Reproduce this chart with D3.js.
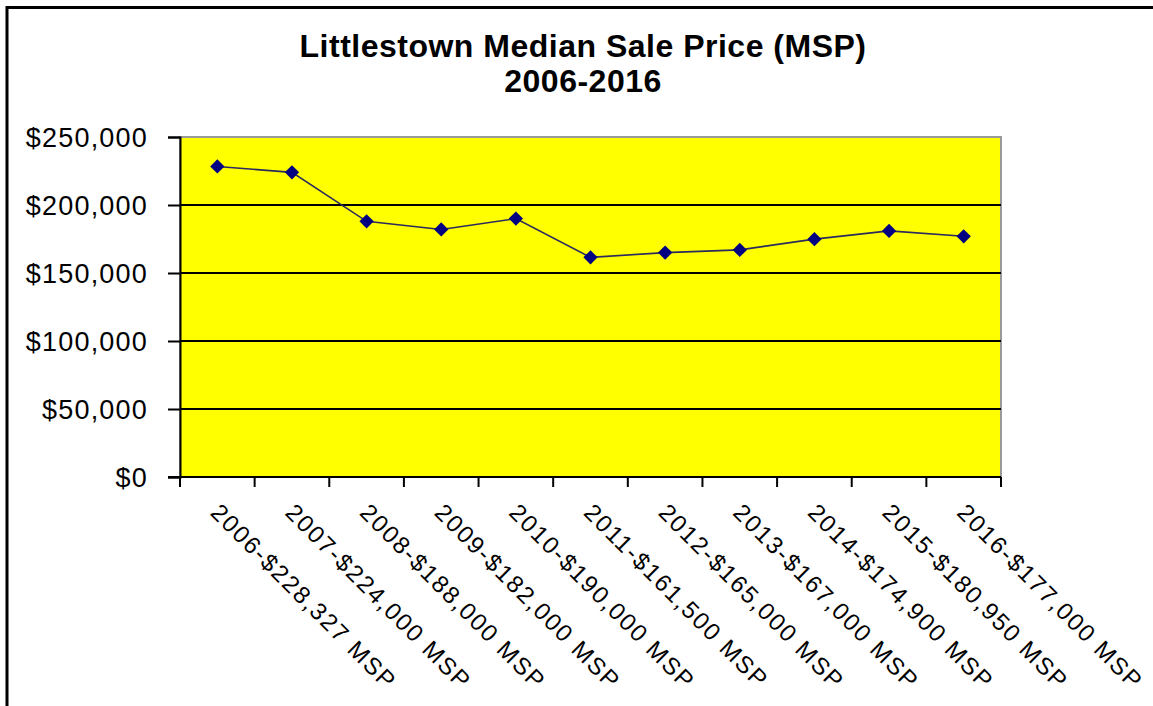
<!DOCTYPE html>
<html>
<head>
<meta charset="utf-8">
<script src="https://cdn.jsdelivr.net/npm/d3@7"></script>
<style>
  body { margin: 0; background: #fff; }
  text { font-family: "Liberation Sans", Arial, sans-serif; fill: #000; }
</style>
</head>
<body>
<script>
// data
var years = ["2006", "2007", "2008", "2009", "2010", "2011", "2012", "2013", "2014", "2015", "2016"];
var prices = [228327, 224000, 188000, 182000, 190000, 161500, 165000, 167000, 174900, 180950, 177000];
var yTicks = [0, 50000, 100000, 150000, 200000, 250000];
var titleLines = ["Littlestown Median Sale Price (MSP)", "2006-2016"];

var vizWidth = 1153,
    vizHeight = 706,
    plot = { left: 180, right: 1001, top: 137, bottom: 477 };

var data = years.map(function (y, i) { return { year: y, price: prices[i] }; });

var svg = d3.select("body").append("svg")
    .attr("width", vizWidth)
    .attr("height", vizHeight);

// outer frame (runs off the right / bottom edge)
svg.append("rect")
    .attr("x", 7).attr("y", 7.5)
    .attr("width", 1200).attr("height", 800)
    .attr("fill", "none")
    .attr("stroke", "#000")
    .attr("stroke-width", 3);

// title
svg.append("g").selectAll("text")
    .data(titleLines)
    .enter().append("text")
    .attr("x", 583)
    .attr("y", function (d, i) { return 57 + i * 35; })
    .attr("text-anchor", "middle")
    .style("font-size", "32px")
    .style("font-weight", "bold")
    .style("letter-spacing", "0.5px")
    .text(function (d) { return d; });

var x = d3.scaleBand()
    .domain(years)
    .range([plot.left, plot.right]);

var y = d3.scaleLinear()
    .domain([0, 250000])
    .range([plot.bottom, plot.top]);

// plot area
svg.append("rect")
    .attr("x", plot.left).attr("y", plot.top)
    .attr("width", plot.right - plot.left)
    .attr("height", plot.bottom - plot.top)
    .attr("fill", "#ffff00")
    .attr("stroke", "#999")
    .attr("stroke-width", 2);

// gridlines
svg.append("g").selectAll("line")
    .data(yTicks.filter(function (d) { return d > 0 && d < 250000; }))
    .enter().append("line")
    .attr("x1", plot.left).attr("x2", plot.right)
    .attr("y1", function (d) { return y(d); })
    .attr("y2", function (d) { return y(d); })
    .attr("stroke", "#000")
    .attr("stroke-width", 2);

// y axis
var yAxis = svg.append("g")
    .attr("transform", "translate(" + plot.left + ",0)")
    .call(d3.axisLeft(y)
        .tickValues(yTicks)
        .tickSize(12)
        .tickPadding(20)
        .tickFormat(function (d) { return "$" + d3.format(",")(d); }));
yAxis.select(".domain").attr("stroke", "#000").attr("stroke-width", 2);
yAxis.selectAll(".tick line").attr("stroke", "#000").attr("stroke-width", 2);
yAxis.selectAll(".tick text")
    .style("font-size", "27px")
    .style("letter-spacing", "1.2px")
    .attr("dy", "0.36em")
    .attr("x", -32);

// x axis: ticks between categories
var bounds = years.map(function (d) { return x(d); }).concat([plot.right]);
var xAxis = svg.append("g");
xAxis.append("line")
    .attr("x1", plot.left - 12).attr("x2", plot.right)
    .attr("y1", plot.bottom).attr("y2", plot.bottom)
    .attr("stroke", "#000").attr("stroke-width", 2);
xAxis.selectAll(".xtick")
    .data(bounds)
    .enter().append("line")
    .attr("class", "xtick")
    .attr("x1", function (d) { return d; })
    .attr("x2", function (d) { return d; })
    .attr("y1", plot.bottom).attr("y2", plot.bottom + 10)
    .attr("stroke", "#000").attr("stroke-width", 2);

xAxis.selectAll(".xlabel")
    .data(data)
    .enter().append("text")
    .attr("class", "xlabel")
    .attr("transform", function (d) {
        return "translate(" + (x(d.year) + x.bandwidth() / 2 - 8) + "," + (plot.bottom + 37) + ") rotate(45)";
    })
    .style("font-size", "24px")
    .style("letter-spacing", "1.8px")
    .text(function (d) { return d.year + "-$" + d3.format(",")(d.price) + " MSP"; });

// line + markers
var line = d3.line()
    .x(function (d) { return x(d.year) + x.bandwidth() / 2; })
    .y(function (d) { return y(d.price); });

svg.append("path")
    .datum(data)
    .attr("d", line)
    .attr("fill", "none")
    .attr("stroke", "#2a2a5e")
    .attr("stroke-width", 1.6);

svg.append("g").selectAll("path")
    .data(data)
    .enter().append("path")
    .attr("d", d3.symbol().type(d3.symbolDiamond2).size(130))
    .attr("transform", function (d) {
        return "translate(" + (x(d.year) + x.bandwidth() / 2) + "," + y(d.price) + ")";
    })
    .attr("fill", "#000080");
</script>
</body>
</html>
